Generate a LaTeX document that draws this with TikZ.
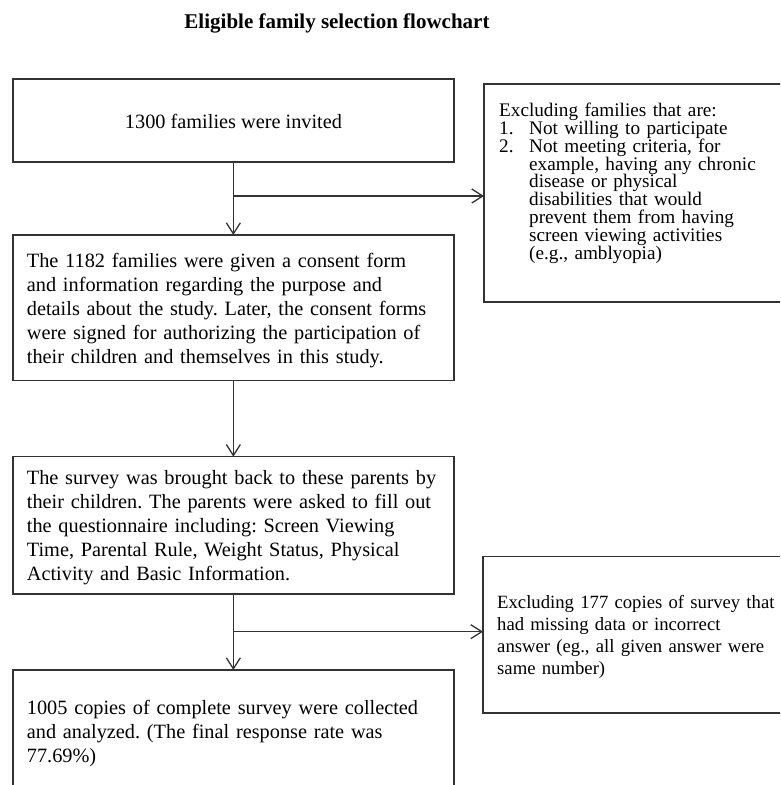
\documentclass[tikz,border=0pt]{standalone}
\usepackage{fontspec}
\setmainfont{Liberation Serif}
\usetikzlibrary{arrows.meta,calc}
\begin{document}
\frenchspacing
\begin{tikzpicture}[x=1pt,y=1pt,
  box/.style={draw=black!80, line width=1.6pt, inner sep=0pt, outer sep=0pt, anchor=south west, minimum width=#1},
  box/.default=441.3pt,
  txt/.style={inner sep=0pt, anchor=base west, align=left, text width=#1},
  arr/.style={draw=black!80, line width=1.3pt, -{Straight Barb[length=11pt,width=14pt,line width=1.3pt]}},
  bigfont/.style={font=\fontsize{20.3}{24}\selectfont},
]
\useasboundingbox (0,0) rectangle (780,785);
\fill[white] (0,0) rectangle (780,785);
\clip (0,0) rectangle (780,785);

\node[font=\bfseries\fontsize{21}{24}\selectfont, anchor=base, inner sep=0pt] (title) at (337,756) {Eligible family selection flowchart};

% main boxes
\node[box, minimum height=82.7pt] (b1) at (12.7,623) {};
\node[box, minimum height=145.7pt] (b2) at (12.7,404.3) {};
\node[box, minimum height=137.3pt] (b3) at (12.7,191) {};
\node[box, minimum height=155pt] (b4) at (12.7,-40) {};
% side boxes
\node[box=330pt, minimum height=218pt] (r1) at (484,483) {};
\node[box=330pt, minimum height=156.3pt] (r2) at (483,72) {};

% texts
\node[bigfont, anchor=base, inner sep=0pt] (t1) at (233.5,656.7) {1300 families were invited};
\node[bigfont, txt=425pt] (t2) at (26.7,517.3) {The 1182 families were given a consent form\\
and information regarding the purpose and\\
details about the study. Later, the consent forms\\
were signed for authorizing the participation of\\
their children and themselves in this study.};
\node[bigfont, txt=425pt] (t3) at (26.7,300) {The survey was brought back to these parents by\\
their children. The parents were asked to fill out\\
the questionnaire including: Screen Viewing\\
Time, Parental Rule, Weight Status, Physical\\
Activity and Basic Information.};
\node[font=\fontsize{20.3}{23.5}\selectfont, txt=425pt] (t4) at (26.7,70) {1005 copies of complete survey were collected\\
and analyzed. (The final response rate was\\
77.69\%)};
\node[font=\fontsize{19.2}{17.8}\selectfont, txt=285pt] (tr1) at (499,668.3) {Excluding families that are:\\
\makebox[30pt][l]{1.}Not willing to participate\\
\makebox[30pt][l]{2.}Not meeting criteria, for\\
\hspace*{30pt}example, having any chronic\\
\hspace*{30pt}disease or physical\\
\hspace*{30pt}disabilities that would\\
\hspace*{30pt}prevent them from having\\
\hspace*{30pt}screen viewing activities\\
\hspace*{30pt}(e.g., amblyopia)};
\node[font=\fontsize{18.7}{22.2}\selectfont, txt=290pt] (tr2) at (497,176.7) {Excluding 177 copies of survey that\\
had missing data or incorrect\\
answer (eg., all given answer were\\
same number)};

% connectors
\coordinate (j1) at ($(b1.south)!0.466!(b2.north)$);
\coordinate (j2) at ($(b3.south)!0.496!(b4.north)$);
\draw[arr] (b1.south) -- (b2.north);
\draw[arr] (j1) -- (j1 -| r1.west);
\draw[arr] (b2.south) -- (b3.north);
\draw[arr] (b3.south) -- (b4.north);
\draw[arr] (j2) -- (j2 -| r2.west);
\end{tikzpicture}
\end{document}
